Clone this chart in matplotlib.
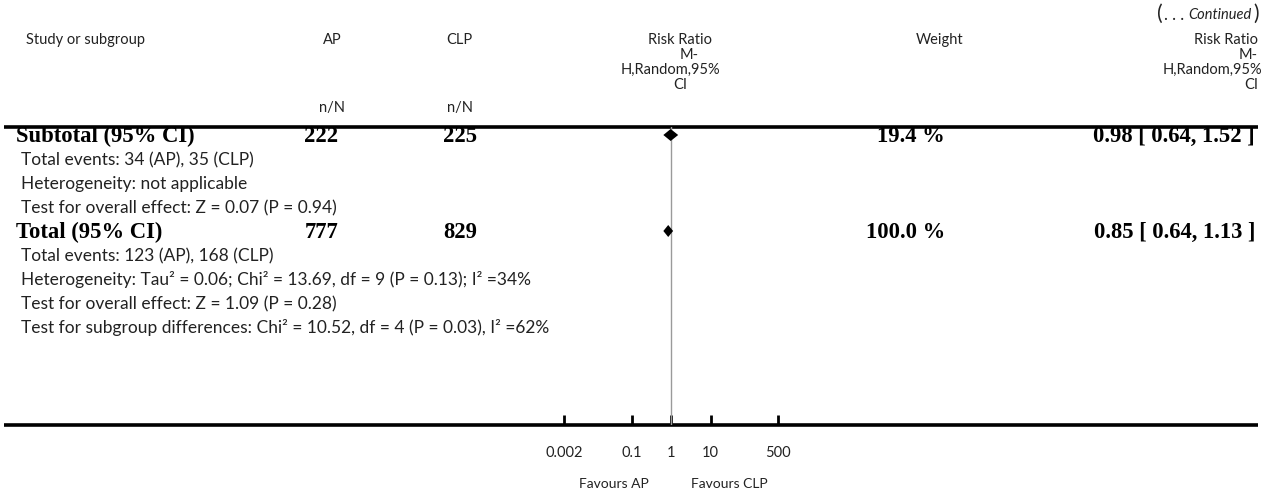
import matplotlib
matplotlib.use("Agg")
import matplotlib.pyplot as plt
import numpy as np

# ---- data ----
row_labels = ["Subtotal (95% CI)", "Total events: 34 (AP), 35 (CLP)",
              "Heterogeneity: not applicable",
              "Test for overall effect: Z = 0.07 (P = 0.94)",
              "Total (95% CI)", "Total events: 123 (AP), 168 (CLP)",
              "Heterogeneity: Tau² = 0.06; Chi² = 13.69, df = 9 (P = 0.13); I² =34%",
              "Test for overall effect: Z = 1.09 (P = 0.28)",
              "Test for subgroup differences: Chi² = 10.52, df = 4 (P = 0.03), I² =62%"]
row_bold = [True, False, False, False, True, False, False, False, False]

pooled_rows = [0, 4]
ap_n = ["222", "777"]
clp_n = ["225", "829"]
weights = ["19.4 %", "100.0 %"]
rr_est = [0.98, 0.85]
rr_lo = [0.64, 0.64]
rr_hi = [1.52, 1.13]

tick_vals = [0.002, 0.1, 1, 10, 500]
tick_labels = ["0.002", "0.1", "1", "10", "500"]

# ---- layout (pixels) ----
W, H = 1263, 496
ROW0, ROW_STEP = 136, 24
TOP_RULE, BOT_RULE = 127, 425
ONE_X, PX_DEC = 671, 39.5
FX_L, FX_R = 540, 800

SANS = ["Lato", "DejaVu Sans"]
SERIF = ["Liberation Serif", "DejaVu Serif"]
TXT = "#222222"
FS = 12.5
HFS = 10.5
BFS = 16.3

fig = plt.figure(figsize=(W / 100, H / 100), dpi=100)
ax = fig.add_axes([0, 0, 1, 1])
ax.set_xlim(0, W)
ax.set_ylim(H, 0)
ax.axis("off")

# header: "(... Continued)"
cont = ax.text(1252, 15, "Continued", ha="right", va="center", fontsize=10.5,
               style="italic", family=SANS, color=TXT)
ax.annotate(")", xy=(1, 0.5), xycoords=cont, xytext=(1, 1), textcoords="offset points",
            ha="left", va="center", fontsize=15, family=SANS, color=TXT)
dots = ax.annotate(". . .", xy=(0, 0.5), xycoords=cont, xytext=(-3, 0),
                   textcoords="offset points", ha="right", va="center",
                   fontsize=12, family=SANS, color=TXT)
ax.annotate("(", xy=(0, 0.5), xycoords=dots, xytext=(-1, 1), textcoords="offset points",
            ha="right", va="center", fontsize=15, family=SANS, color=TXT)

hs = dict(va="center", fontsize=HFS, family=SANS, color=TXT)
ax.text(26, 40, "Study or subgroup", ha="left", **hs)
ax.text(332, 40, "AP", ha="center", **hs)
ax.text(459, 40, "CLP", ha="center", **hs)
ax.text(332, 108, "n/N", ha="center", **hs)
ax.text(460, 108, "n/N", ha="center", **hs)
ax.text(680, 40, "Risk Ratio", ha="center", **hs)
ax.text(689, 55, "M-", ha="center", **hs)
ax.text(670, 70, "H,Random,95%", ha="center", **hs)
ax.text(680, 85, "CI", ha="center", **hs)
ax.text(940, 40, "Weight", ha="center", **hs)
ax.text(1258, 40, "Risk Ratio", ha="right", **hs)
ax.text(1258, 55, "M-", ha="right", **hs)
ax.text(1262, 70, "H,Random,95%", ha="right", **hs)
ax.text(1258, 85, "CI", ha="right", **hs)

# rules
ax.plot([4, 1258], [TOP_RULE, TOP_RULE], color="black", lw=2.6, solid_capstyle="butt")
ax.plot([4, 1258], [BOT_RULE, BOT_RULE], color="black", lw=2.6, solid_capstyle="butt")

# body text
for i, (lab, b) in enumerate(zip(row_labels, row_bold)):
    y = ROW0 + i * ROW_STEP
    if b:
        ax.text(16, y, lab, ha="left", va="center", fontsize=BFS, weight="bold",
                family=SERIF, color="black")
    else:
        ax.text(21, y, lab, ha="left", va="center", fontsize=FS, family=SANS, color=TXT)

bs = dict(va="center", fontsize=BFS, weight="bold", family=SERIF, color="black")
for k, r in enumerate(pooled_rows):
    y = ROW0 + r * ROW_STEP
    ax.text(338, y, ap_n[k], ha="right", **bs)
    ax.text(477, y, clp_n[k], ha="right", **bs)
    ax.text(945, y, weights[k], ha="right", **bs)
    ax.text(1255, y, f"{rr_est[k]:.2f} [ {rr_lo[k]:.2f}, {rr_hi[k]:.2f} ]", ha="right", **bs)

# forest panel on a log scale
fx = fig.add_axes([FX_L / W, 1 - BOT_RULE / H, (FX_R - FX_L) / W, (BOT_RULE - TOP_RULE) / H])
fx.patch.set_alpha(0)
fx.set_xscale("log")
fx.set_xlim(10 ** ((FX_L - ONE_X) / PX_DEC), 10 ** ((FX_R - ONE_X) / PX_DEC))
fx.set_ylim(BOT_RULE, TOP_RULE)
for s in fx.spines.values():
    s.set_visible(False)
fx.axvline(1, color="#9a9a9a", lw=1)
fx.set_yticks([])
fx.set_xticks(tick_vals)
fx.set_xticklabels(tick_labels)
fx.xaxis.set_minor_locator(matplotlib.ticker.NullLocator())
fx.tick_params(axis="x", direction="in", length=7, width=2, pad=15, labelsize=10.5,
               labelcolor=TXT)
for t in fx.get_xticklabels():
    t.set_family(SANS)

for k, r in enumerate(pooled_rows):
    y = ROW0 + r * ROW_STEP - 1
    h = 6
    fx.fill([rr_lo[k], rr_est[k], rr_hi[k], rr_est[k]], [y, y - h, y, y + h],
            color="black", lw=0, zorder=3)

ax.text(614, 484, "Favours AP", ha="center", va="center", fontsize=10, family=SANS, color=TXT)
ax.text(729, 484, "Favours CLP", ha="center", va="center", fontsize=10, family=SANS, color=TXT)

fig.savefig("out.png", dpi=100)
